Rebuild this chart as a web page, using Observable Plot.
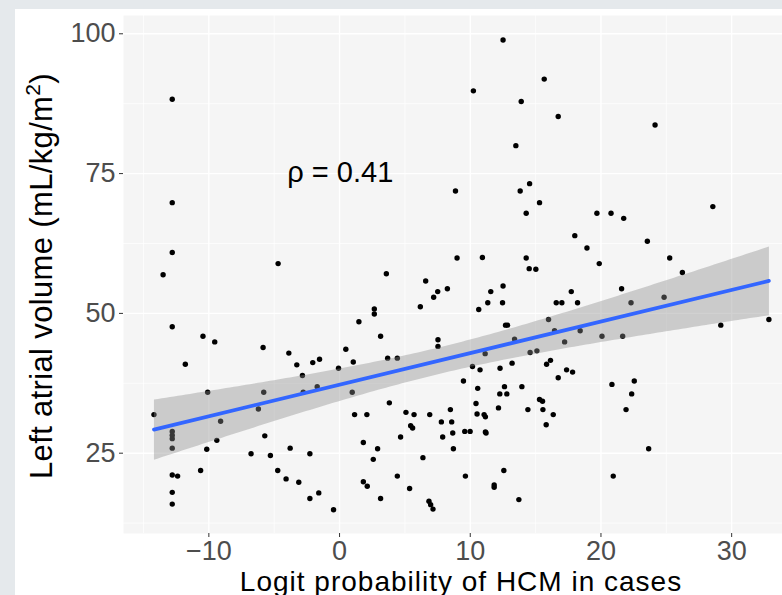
<!DOCTYPE html>
<html>
<head>
<meta charset="utf-8">
<script src="https://cdn.jsdelivr.net/npm/d3@7"></script>
<script src="https://cdn.jsdelivr.net/npm/@observablehq/plot@0.6"></script>
<style>
  html, body { margin: 0; padding: 0; background: #E5E9EC; width: 782px; height: 595px; overflow: hidden; }
  #chart { position: absolute; left: 15px; top: 9px; width: 767px; height: 586px; background: #ffffff; overflow: hidden; }
  svg { display: block; }
</style>
</head>
<body>
<div id="chart"></div>
<script>
// Logit probability of HCM in cases (x) and left atrial volume (y)
const logitHCM = [
  -12.8, -12.8, 12.51, 15.66, 10.24, 13.9, 16.73, 24.14, 13.49, 8.87,
  14.54, 13.82, 15.3, 14.28, 19.69, 20.77, 21.74, 28.56, 18.0, 18.93,
  19.87, 23.55, 25.26, 26.23, 8.99, 10.93, 14.28, 14.51, 15.02, 3.58,
  6.59, 7.51, 7.2, 8.25, 6.18, 11.57, 11.34, 12.51, 12.47, 10.65,
  17.73, 16.58, 17.01, 18.21, 21.58, 22.3, 24.83, 29.17, 32.85, 3.14,
  3.68, 4.42, 7.53, 7.53, 12.7, 12.85, 15.99, 16.45, 18.41, 13.39,
  17.22, 20.08, 21.66, 11.14, 14.58, 15.1, 10.17, 10.75, 12.28, 13.2,
  15.84, 16.14, 16.73, 17.37, 17.83, 9.48, 10.57, 12.62, 12.26, 12.8,
  13.95, 15.3, 15.53, 20.84, 22.55, 22.35, 3.81, 5.08, 5.7, 6.9,
  8.48, 7.79, 8.58, 5.44, 5.59, 7.89, 8.66, 9.58, 9.99, 4.67,
  8.71, 6.38, 4.42, 5.36, 6.84, 6.97, 7.15, 9.63, 11.83, 11.83,
  12.57, 13.72, 11.06, 11.16, 10.52, 10.44, 12.16, 11.16, 11.21, 14.41,
  15.56, 16.35, 15.81, 21.92, 23.65, 20.94, -14.2, -12.8, -12.8, -12.8,
  -12.8, -12.8, -12.39, -12.8, -12.8, -10.63, -10.16, -9.39, -9.1, -10.09,
  -6.77, -5.8, -6.21, -5.72, -5.29, -4.73, -4.09, -3.78, -3.12, -2.27,
  -2.27, -1.59, -0.46, -2.78, -1.71, 0.97, 1.15, 2.09, 1.82, 2.91,
  2.58, 1.82, 2.12, 3.14, -12.8, -13.5, -12.8, -11.8, -10.45, -9.55,
  -4.7, -5.85, -3.88, -3.27, -2.84, -2.05, -1.53, -0.08, 0.48, 1.05,
  1.48, 2.66, 2.66
];
const leftAtrialVolume = [
  88.3, 69.8, 98.9, 91.9, 89.8, 87.9, 85.2, 83.7, 80.0, 71.9,
  73.2, 71.9, 69.8, 67.9, 67.9, 67.9, 67.0, 69.1, 63.9, 61.7,
  58.9, 62.9, 59.9, 57.3, 59.9, 60.0, 59.9, 58.0, 57.9, 57.1,
  55.8, 53.9, 52.9, 54.4, 51.2, 53.9, 51.9, 54.9, 51.9, 50.7,
  53.9, 51.9, 51.9, 51.9, 54.4, 51.9, 52.9, 47.9, 48.9, 45.9,
  42.0, 42.0, 45.3, 44.1, 47.9, 47.9, 48.9, 46.9, 46.9, 45.4,
  44.9, 45.9, 45.9, 42.8, 43.0, 43.3, 40.5, 39.9, 40.2, 41.1,
  40.9, 41.6, 38.5, 39.9, 39.5, 37.9, 36.6, 36.9, 35.6, 35.6,
  36.9, 34.6, 34.3, 37.3, 37.9, 35.6, 34.0, 32.3, 31.9, 31.9,
  32.8, 30.6, 30.6, 29.9, 29.5, 27.9, 28.6, 28.9, 28.9, 27.9,
  25.8, 24.2, 20.9, 18.7, 16.4, 15.8, 15.0, 20.9, 19.3, 18.9,
  21.9, 16.7, 31.9, 31.5, 32.0, 33.9, 33.1, 28.8, 28.6, 32.8,
  32.8, 31.9, 30.1, 32.8, 25.8, 20.9, 31.9, 28.9, 28.2, 27.6,
  25.9, 21.1, 20.9, 18.0, 15.9, 21.9, 25.7, 27.3, 30.7, 35.9,
  24.9, 35.9, 32.9, 28.1, 24.6, 21.9, 20.4, 25.9, 19.8, 24.9,
  16.9, 17.9, 14.9, 35.9, 36.9, 35.9, 31.9, 31.9, 26.9, 25.8,
  23.9, 19.9, 19.1, 16.9, 60.9, 56.9, 47.6, 40.9, 45.9, 44.9,
  58.9, 43.9, 42.9, 40.8, 38.9, 41.2, 41.8, 40.2, 43.6, 41.3,
  48.5, 50.8, 49.9
];
const xTicks = [-10, 0, 10, 20, 30];
const xMinorTicks = [-15, -5, 5, 15, 25];
const yTicks = [25, 50, 75, 100];
const yMinorTicks = [12.5, 37.5, 62.5, 87.5];
const xTitle = "Logit probability of HCM in cases";
const yTitleMain = "Left atrial volume (mL/kg/m";
const yTitleSup = "2";
const yTitleEnd = ")";
const annotation = ["ρ = 0.41"];

const points = logitHCM.map((x, i) => ({x, y: leftAtrialVolume[i]}));
const font = "'Liberation Sans', Arial, Helvetica, sans-serif";

const plot = Plot.plot({
  width: 767,
  height: 586,
  marginLeft: 108,
  marginTop: 6,
  marginRight: 0,
  marginBottom: 62,
  x: {domain: [-16.53, 33.89], label: null},
  y: {domain: [10.64, 103.27], label: null},
  style: {fontFamily: font, background: "#ffffff", overflow: "visible"},
  marks: [
    Plot.frame({fill: "#F5F5F5", stroke: "none"}),
    Plot.gridX(xMinorTicks, {stroke: "#ffffff", strokeOpacity: 1, strokeWidth: 0.7}),
    Plot.gridY(yMinorTicks, {stroke: "#ffffff", strokeOpacity: 1, strokeWidth: 0.7}),
    Plot.gridX(xTicks, {stroke: "#ffffff", strokeOpacity: 1, strokeWidth: 1.4}),
    Plot.gridY(yTicks, {stroke: "#ffffff", strokeOpacity: 1, strokeWidth: 1.4}),
    Plot.dot(points, {x: "x", y: "y", r: 2.7, fill: "#000000", stroke: "none"}),
    Plot.linearRegressionY(points, {x: "x", y: "y", ci: 0.95, stroke: "#3366FF", strokeWidth: 3.7, fill: "#8C8C8C", fillOpacity: 0.4}),
    Plot.text(annotation, {x: -4.0, y: 75.1, text: d => d, textAnchor: "start", fontSize: 29, fill: "#000000"}),
    Plot.axisX(xTicks, {tickSize: 4, tickPadding: 3, fontSize: 27, color: "#4D4D4D", stroke: "#333333", label: null}),
    Plot.axisY(yTicks, {tickSize: 4, tickPadding: 4, fontSize: 27, color: "#4D4D4D", stroke: "#333333", label: null})
  ]
});

const svg = d3.select(plot);
svg.append("text")
  .attr("x", 446).attr("y", 582)
  .attr("text-anchor", "middle")
  .attr("font-size", 28)
  .attr("letter-spacing", 1)
  .attr("fill", "#000000")
  .text(xTitle);
const yt = svg.append("text")
  .attr("transform", "translate(37,267) rotate(-90)")
  .attr("text-anchor", "middle")
  .attr("font-size", 31)
  .attr("letter-spacing", 0.35)
  .attr("fill", "#000000");
yt.append("tspan").text(yTitleMain);
yt.append("tspan").attr("font-size", 21).attr("dy", -12).text(yTitleSup);
yt.append("tspan").attr("font-size", 31).attr("dy", 12).text(yTitleEnd);

document.getElementById("chart").appendChild(plot);
</script>
</body>
</html>
